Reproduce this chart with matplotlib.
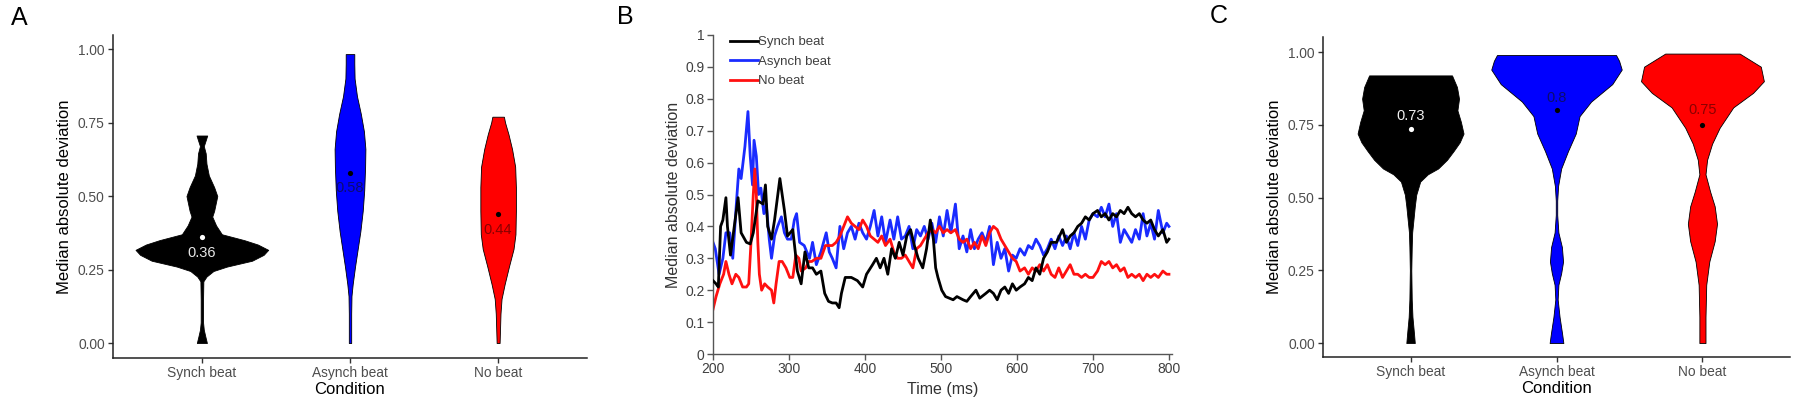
import matplotlib
matplotlib.use("Agg")
import matplotlib.pyplot as plt
import numpy as np

plt.rcParams['font.family'] = ['Liberation Sans', 'DejaVu Sans']

# ---------------- data ----------------
conditions = ["Synch beat", "Asynch beat", "No beat"]
colors = ["#000000", "#0000FF", "#FF0000"]

# Panel A violin profiles (value, half-width in category units)
a_synch_y = [0.0, 0.023, 0.045, 0.07, 0.15, 0.21, 0.226, 0.245, 0.26, 0.28, 0.30, 0.317, 0.335, 0.35, 0.37, 0.40, 0.43, 0.45, 0.50, 0.53, 0.57, 0.61, 0.645, 0.67, 0.69, 0.706]
a_synch_w = [0.034, 0.023, 0.013, 0.008, 0.008, 0.010, 0.031, 0.078, 0.169, 0.339, 0.417, 0.448, 0.378, 0.286, 0.135, 0.096, 0.070, 0.083, 0.104, 0.083, 0.047, 0.031, 0.026, 0.013, 0.026, 0.036]
a_async_y = [0.0, 0.10, 0.16, 0.20, 0.26, 0.32, 0.38, 0.45, 0.52, 0.60, 0.66, 0.72, 0.78, 0.84, 0.90, 0.95, 0.983]
a_async_w = [0.008, 0.008, 0.010, 0.018, 0.034, 0.052, 0.070, 0.086, 0.096, 0.102, 0.104, 0.094, 0.073, 0.047, 0.031, 0.029, 0.029]
a_nobeat_y = [0.0, 0.05, 0.10, 0.15, 0.20, 0.26, 0.32, 0.37, 0.45, 0.53, 0.60, 0.66, 0.71, 0.75, 0.77]
a_nobeat_w = [0.010, 0.013, 0.016, 0.023, 0.044, 0.073, 0.104, 0.117, 0.120, 0.120, 0.115, 0.094, 0.070, 0.047, 0.039]
a_medians = [0.36, 0.58, 0.44]
a_labels = ["0.36", "0.58", "0.44"]

# Panel C violin profiles
c_synch_y = [0.0, 0.03, 0.09, 0.15, 0.25, 0.33, 0.38, 0.43, 0.47, 0.51, 0.555, 0.58, 0.60, 0.63, 0.66, 0.69, 0.72, 0.76, 0.80, 0.84, 0.88, 0.92]
c_synch_w = [0.029, 0.024, 0.013, 0.008, 0.005, 0.008, 0.011, 0.021, 0.029, 0.039, 0.066, 0.118, 0.189, 0.250, 0.295, 0.337, 0.363, 0.345, 0.321, 0.332, 0.318, 0.284]
c_async_y = [0.0, 0.03, 0.09, 0.15, 0.20, 0.24, 0.28, 0.33, 0.38, 0.44, 0.49, 0.54, 0.60, 0.66, 0.72, 0.78, 0.83, 0.89, 0.94, 0.97, 0.99]
c_async_w = [0.047, 0.039, 0.021, 0.008, 0.013, 0.032, 0.045, 0.037, 0.013, 0.005, 0.005, 0.011, 0.032, 0.079, 0.132, 0.158, 0.237, 0.382, 0.447, 0.429, 0.408]
c_nobeat_y = [0.0, 0.09, 0.20, 0.28, 0.35, 0.41, 0.47, 0.52, 0.58, 0.63, 0.685, 0.74, 0.81, 0.86, 0.90, 0.95, 0.995]
c_nobeat_w = [0.021, 0.021, 0.026, 0.047, 0.084, 0.100, 0.084, 0.053, 0.021, 0.032, 0.066, 0.118, 0.211, 0.347, 0.421, 0.400, 0.255]
c_medians = [0.735, 0.80, 0.75]
c_labels = ["0.73", "0.8", "0.75"]

# Panel B time series
synch_t = [200, 204, 207, 210, 213, 217, 219, 223, 228, 233, 237, 244, 249, 253, 259, 266, 269, 272, 277, 281, 288, 294, 298, 305, 311, 316, 321, 326, 331, 336, 342, 347, 352, 357, 362, 366, 369, 374, 382, 390, 397, 402, 410, 415, 420, 425, 430, 435, 440, 445, 450, 455, 460, 465, 470, 476, 481, 486, 490, 493, 496, 501, 506, 511, 516, 521, 529, 534, 539, 546, 551, 559, 564, 569, 574, 579, 584, 589, 594, 599, 604, 610, 615, 620, 625, 630, 635, 640, 645, 652, 660, 665, 670, 675, 680, 685, 690, 695, 700, 706, 711, 716, 721, 726, 731, 736, 741, 746, 751, 756, 761, 766, 771, 776, 781, 786, 792, 797, 800]
synch_v = [0.23, 0.22, 0.21, 0.40, 0.42, 0.49, 0.40, 0.31, 0.40, 0.49, 0.38, 0.35, 0.345, 0.38, 0.48, 0.47, 0.53, 0.40, 0.36, 0.42, 0.55, 0.45, 0.37, 0.39, 0.26, 0.22, 0.32, 0.27, 0.27, 0.25, 0.26, 0.19, 0.165, 0.16, 0.16, 0.145, 0.19, 0.24, 0.24, 0.23, 0.21, 0.25, 0.28, 0.30, 0.27, 0.30, 0.25, 0.33, 0.30, 0.35, 0.31, 0.37, 0.39, 0.34, 0.30, 0.27, 0.33, 0.42, 0.36, 0.27, 0.24, 0.20, 0.18, 0.175, 0.17, 0.18, 0.17, 0.165, 0.18, 0.20, 0.175, 0.19, 0.20, 0.19, 0.17, 0.20, 0.21, 0.19, 0.22, 0.20, 0.21, 0.22, 0.24, 0.23, 0.27, 0.25, 0.30, 0.32, 0.35, 0.35, 0.39, 0.35, 0.37, 0.38, 0.40, 0.41, 0.43, 0.42, 0.44, 0.45, 0.43, 0.44, 0.42, 0.44, 0.43, 0.45, 0.44, 0.46, 0.44, 0.43, 0.44, 0.42, 0.41, 0.42, 0.39, 0.37, 0.39, 0.35, 0.36]

asynch_t = [200, 203, 208, 213, 217, 222, 226, 231, 234, 237, 242, 246, 249, 252, 254, 257, 260, 263, 267, 270, 274, 277, 281, 285, 290, 294, 298, 303, 307, 310, 314, 320, 327, 331, 336, 342, 349, 353, 357, 362, 367, 372, 377, 382, 387, 392, 397, 402, 407, 412, 417, 422, 427, 433, 438, 443, 448, 453, 458, 463, 468, 473, 478, 483, 488, 493, 498, 503, 508, 513, 519, 524, 529, 534, 539, 544, 549, 554, 559, 564, 569, 574, 579, 584, 589, 594, 599, 604, 610, 615, 620, 625, 630, 635, 640, 645, 650, 655, 660, 665, 670, 675, 680, 685, 690, 695, 700, 706, 711, 716, 721, 726, 731, 736, 741, 746, 751, 756, 761, 766, 771, 776, 781, 786, 792, 797, 800]
asynch_v = [0.35, 0.33, 0.25, 0.30, 0.38, 0.38, 0.30, 0.48, 0.58, 0.55, 0.65, 0.76, 0.62, 0.53, 0.67, 0.62, 0.50, 0.52, 0.44, 0.47, 0.36, 0.30, 0.37, 0.40, 0.43, 0.38, 0.36, 0.36, 0.42, 0.44, 0.35, 0.34, 0.30, 0.35, 0.28, 0.32, 0.38, 0.32, 0.30, 0.27, 0.40, 0.33, 0.38, 0.40, 0.36, 0.41, 0.38, 0.36, 0.40, 0.45, 0.37, 0.43, 0.35, 0.42, 0.36, 0.43, 0.36, 0.37, 0.40, 0.33, 0.39, 0.37, 0.40, 0.36, 0.41, 0.35, 0.43, 0.37, 0.45, 0.38, 0.47, 0.33, 0.37, 0.32, 0.39, 0.33, 0.36, 0.38, 0.35, 0.40, 0.28, 0.35, 0.30, 0.33, 0.26, 0.31, 0.30, 0.33, 0.31, 0.34, 0.33, 0.36, 0.34, 0.31, 0.33, 0.36, 0.33, 0.37, 0.34, 0.37, 0.33, 0.38, 0.34, 0.40, 0.36, 0.42, 0.44, 0.43, 0.46, 0.43, 0.47, 0.40, 0.44, 0.35, 0.39, 0.37, 0.35, 0.39, 0.36, 0.44, 0.37, 0.41, 0.36, 0.45, 0.38, 0.41, 0.40]

nobeat_t = [200, 204, 209, 214, 217, 221, 225, 230, 234, 239, 244, 247, 250, 253, 255, 257, 259, 261, 264, 268, 272, 277, 280, 283, 287, 291, 296, 301, 305, 309, 313, 316, 322, 326, 330, 336, 342, 348, 353, 357, 362, 367, 372, 377, 382, 387, 392, 397, 402, 407, 412, 417, 422, 427, 433, 438, 443, 448, 453, 458, 463, 468, 473, 478, 483, 488, 493, 498, 503, 508, 513, 519, 524, 529, 534, 539, 544, 549, 554, 559, 564, 569, 574, 579, 584, 589, 594, 599, 604, 610, 615, 620, 625, 630, 635, 640, 645, 650, 655, 660, 665, 670, 675, 680, 685, 690, 695, 700, 706, 711, 716, 721, 726, 731, 736, 741, 746, 751, 756, 761, 766, 771, 776, 781, 786, 792, 797, 800]
nobeat_v = [0.14, 0.18, 0.22, 0.25, 0.29, 0.25, 0.22, 0.25, 0.24, 0.21, 0.21, 0.22, 0.35, 0.50, 0.58, 0.50, 0.35, 0.25, 0.20, 0.22, 0.21, 0.20, 0.16, 0.22, 0.29, 0.29, 0.27, 0.24, 0.24, 0.31, 0.30, 0.26, 0.27, 0.29, 0.29, 0.30, 0.30, 0.34, 0.34, 0.34, 0.35, 0.37, 0.40, 0.43, 0.41, 0.40, 0.39, 0.42, 0.40, 0.37, 0.36, 0.35, 0.37, 0.34, 0.36, 0.32, 0.30, 0.30, 0.31, 0.29, 0.27, 0.33, 0.34, 0.36, 0.38, 0.39, 0.38, 0.40, 0.38, 0.39, 0.38, 0.39, 0.36, 0.35, 0.36, 0.33, 0.35, 0.33, 0.37, 0.34, 0.38, 0.40, 0.39, 0.36, 0.34, 0.32, 0.30, 0.29, 0.26, 0.27, 0.25, 0.27, 0.26, 0.28, 0.26, 0.28, 0.25, 0.24, 0.27, 0.24, 0.26, 0.28, 0.25, 0.25, 0.24, 0.25, 0.24, 0.24, 0.26, 0.29, 0.28, 0.29, 0.27, 0.28, 0.26, 0.27, 0.24, 0.25, 0.24, 0.25, 0.23, 0.25, 0.24, 0.25, 0.24, 0.26, 0.25, 0.25]

b_yticks = [0, 0.1, 0.2, 0.3, 0.4, 0.5, 0.6, 0.7, 0.8, 0.9, 1]
b_yticklabels = ["0", "0.1", "0.2", "0.3", "0.4", "0.5", "0.6", "0.7", "0.8", "0.9", "1"]
b_xticks = [200, 300, 400, 500, 600, 700, 800]
v_ticks = [0.0, 0.25, 0.5, 0.75, 1.0]
v_ticklabels = ["0.00", "0.25", "0.50", "0.75", "1.00"]

# ---------------- figure ----------------
W, H = 1800, 413
fig = plt.figure(figsize=(W / 100, H / 100), dpi=100)


def px_axes(l, r, b, t):
    return fig.add_axes([l / W, (H - b) / H, (r - l) / W, (b - t) / H])


GREY = "#4D4D4D"


def violin_panel(ax, profiles, medians, labels, label_dy, label_colors, dot_colors, ylim):
    for i, (ys, ws) in enumerate(profiles):
        pos = i + 1
        ys = np.asarray(ys)
        ws = np.asarray(ws)
        ax.fill_betweenx(ys, pos - ws, pos + ws, facecolor=colors[i],
                         edgecolor="#000000", linewidth=0.6, zorder=2)
        ax.scatter([pos], [medians[i]], s=14, color=dot_colors[i], zorder=4, linewidths=0)
        ax.text(pos, medians[i] + label_dy[i], labels[i], ha="center", va="center",
                fontsize=10.5, color=label_colors[i][0], alpha=label_colors[i][1], zorder=5)
    ax.set_xlim(0.4, 3.6)
    ax.set_ylim(*ylim)
    ax.set_xticks([1, 2, 3])
    ax.set_xticklabels(conditions)
    ax.set_yticks(v_ticks)
    ax.set_yticklabels(v_ticklabels)
    for s in ["top", "right"]:
        ax.spines[s].set_visible(False)
    for s in ["left", "bottom"]:
        ax.spines[s].set_linewidth(1.1)
        ax.spines[s].set_color("#222222")
    ax.tick_params(axis="both", labelsize=9.9, labelcolor=GREY, color="#333333",
                   length=3.5, width=1.0, pad=2.5)
    ax.set_xlabel("Condition", fontsize=12, labelpad=1)
    ax.set_ylabel("Median absolute deviation", fontsize=12, labelpad=4)


# Panel A
axA = px_axes(113, 587, 358, 35)
violin_panel(axA,
             [(a_synch_y, a_synch_w), (a_async_y, a_async_w), (a_nobeat_y, a_nobeat_w)],
             a_medians, a_labels, [-0.054, -0.053, -0.055],
             [("#E6E6E6", 1.0), ("#101040", 0.75), ("#5a0000", 0.7)],
             ["#FFFFFF", "#000000", "#000000"], (-0.051, 1.048))

# Panel C
axC = px_axes(1323, 1790, 357, 37)
violin_panel(axC,
             [(c_synch_y, c_synch_w), (c_async_y, c_async_w), (c_nobeat_y, c_nobeat_w)],
             c_medians, c_labels, [0.047, 0.043, 0.05],
             [("#F0F0F0", 1.0), ("#101040", 0.75), ("#5a0000", 0.7)],
             ["#FFFFFF", "#000000", "#000000"], (-0.048, 1.052))

# Panel B
axB = px_axes(713, 1172, 354, 35)
axB.plot(asynch_t, asynch_v, color="#1A2BFF", lw=2.0, zorder=2, label="Asynch beat")
axB.plot(nobeat_t, nobeat_v, color="#FF1010", lw=2.0, zorder=2.5, label="No beat")
axB.plot(synch_t, synch_v, color="#000000", lw=2.0, zorder=3, label="Synch beat")
axB.set_xlim(200, 804)
axB.set_ylim(0, 1)
axB.set_xticks(b_xticks)
axB.set_yticks(b_yticks)
axB.set_yticklabels(b_yticklabels)
for s in ["top", "right"]:
    axB.spines[s].set_visible(False)
for s in ["left", "bottom"]:
    axB.spines[s].set_linewidth(1.0)
    axB.spines[s].set_color("#555555")
axB.tick_params(axis="both", labelsize=10, labelcolor="#404040", color="#555555",
                length=4, width=1.0, pad=2)
axB.set_xlabel("Time (ms)", fontsize=11.5, color="#333333", labelpad=4)
axB.set_ylabel("Median absolute deviation", fontsize=11.5, color="#333333", labelpad=3)
h, l = axB.get_legend_handles_labels()
order = [2, 0, 1]
leg = axB.legend([h[i] for i in order], [l[i] for i in order],
                 loc="upper left", bbox_to_anchor=(730 / W, (H - 36) / H),
                 bbox_transform=fig.transFigure, frameon=False, fontsize=9.5,
                 handlelength=2.1, handletextpad=0.0, labelspacing=0.55,
                 borderpad=0, borderaxespad=0)
for t in leg.get_texts():
    t.set_color("#404040")

# Panel letters
fig.text(19 / W, 1 - 18 / H, "A", fontsize=18, ha="center", va="center")
fig.text(625 / W, 1 - 17 / H, "B", fontsize=18, ha="center", va="center")
fig.text(1219 / W, 1 - 16 / H, "C", fontsize=18, ha="center", va="center")

fig.savefig("out.png", dpi=100)
